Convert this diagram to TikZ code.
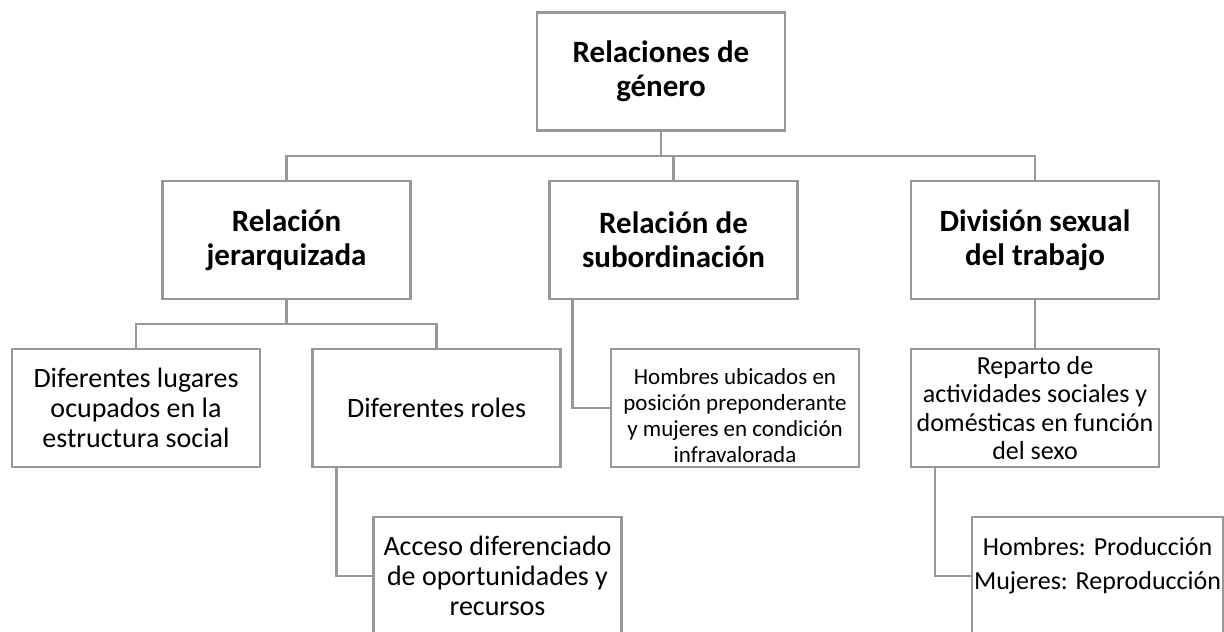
\documentclass[tikz,border=0pt]{standalone}
\usepackage{fontspec}
\setmainfont{Carlito}
\definecolor{linegray}{RGB}{152,152,152}

\begin{document}
\begin{tikzpicture}[x=0.5pt,y=-0.5pt,
  box/.style={draw=linegray,line width=1.2pt,align=center,minimum width=124pt,minimum height=59pt,inner xsep=1pt},
  title/.style={box,font=\bfseries\fontsize{15.5}{17}\selectfont},
  txt/.style={box,font=\fontsize{14}{15}\selectfont},
  link/.style={draw=linegray,line width=1.2pt}]
  \useasboundingbox (0,0) rectangle (1224,631);
  \clip (0,0) rectangle (1224,631);
  \node[title] (gen) at (661,71.5) {Relaciones de\\género};
  \node[title] (jer) at (286.5,240) {Relación\\jerarquizada};
  \node[title] (sub) at (673.5,240) {Relación de\\subordinación};
  \node[title] (div) at (1035,240) {División sexual\\del trabajo};
  \node[txt] (lug) at (136,408) {Diferentes lugares\\ocupados en la\\estructura social};
  \node[txt] (rol) at (436.5,408) {Diferentes roles};
  \node[txt,font=\fontsize{11.5}{13}\selectfont,text height=55pt,inner ysep=0pt] (hom) at (735,408) {Hombres ubicados en\\posición preponderante\\y mujeres en condición\\infravalorada};
  \node[txt,font=\fontsize{13}{14.3}\selectfont] (rep) at (1035,408) {Reparto de\\actividades sociales y\\domésticas en función\\del sexo};
  \node[txt] (acc) at (497.5,576) {Acceso diferenciado\\de oportunidades y\\recursos};
  \node[txt,font=\fontsize{13}{17}\selectfont,text depth=12.6pt,minimum width=124.5pt] (pro) at (1097.5,576) {Hombres: Producción\\Mujeres: Reproducción};
  \coordinate (bus1) at (0,156);
  \coordinate (bus2) at (0,324);
  \draw[link] (gen.south) -- (gen.south |- bus1);
  \draw[link] (jer.north) -- (jer.north |- bus1) -- (div.north |- bus1) -- (div.north);
  \draw[link] (sub.north) -- (sub.north |- bus1);
  \draw[link] (jer.south) -- (jer.south |- bus2);
  \draw[link] (lug.north) -- (lug.north |- bus2) -- (rol.north |- bus2) -- (rol.north);
  \draw[link] ([xshift=12pt]sub.south west) |- (hom.west);
  \draw[link] ([xshift=12.5pt]rol.south west) |- (acc.west);
  \draw[link] (div.south) -- (rep.north);
  \draw[link] ([xshift=12.5pt]rep.south west) |- (pro.west);
\end{tikzpicture}
\end{document}
